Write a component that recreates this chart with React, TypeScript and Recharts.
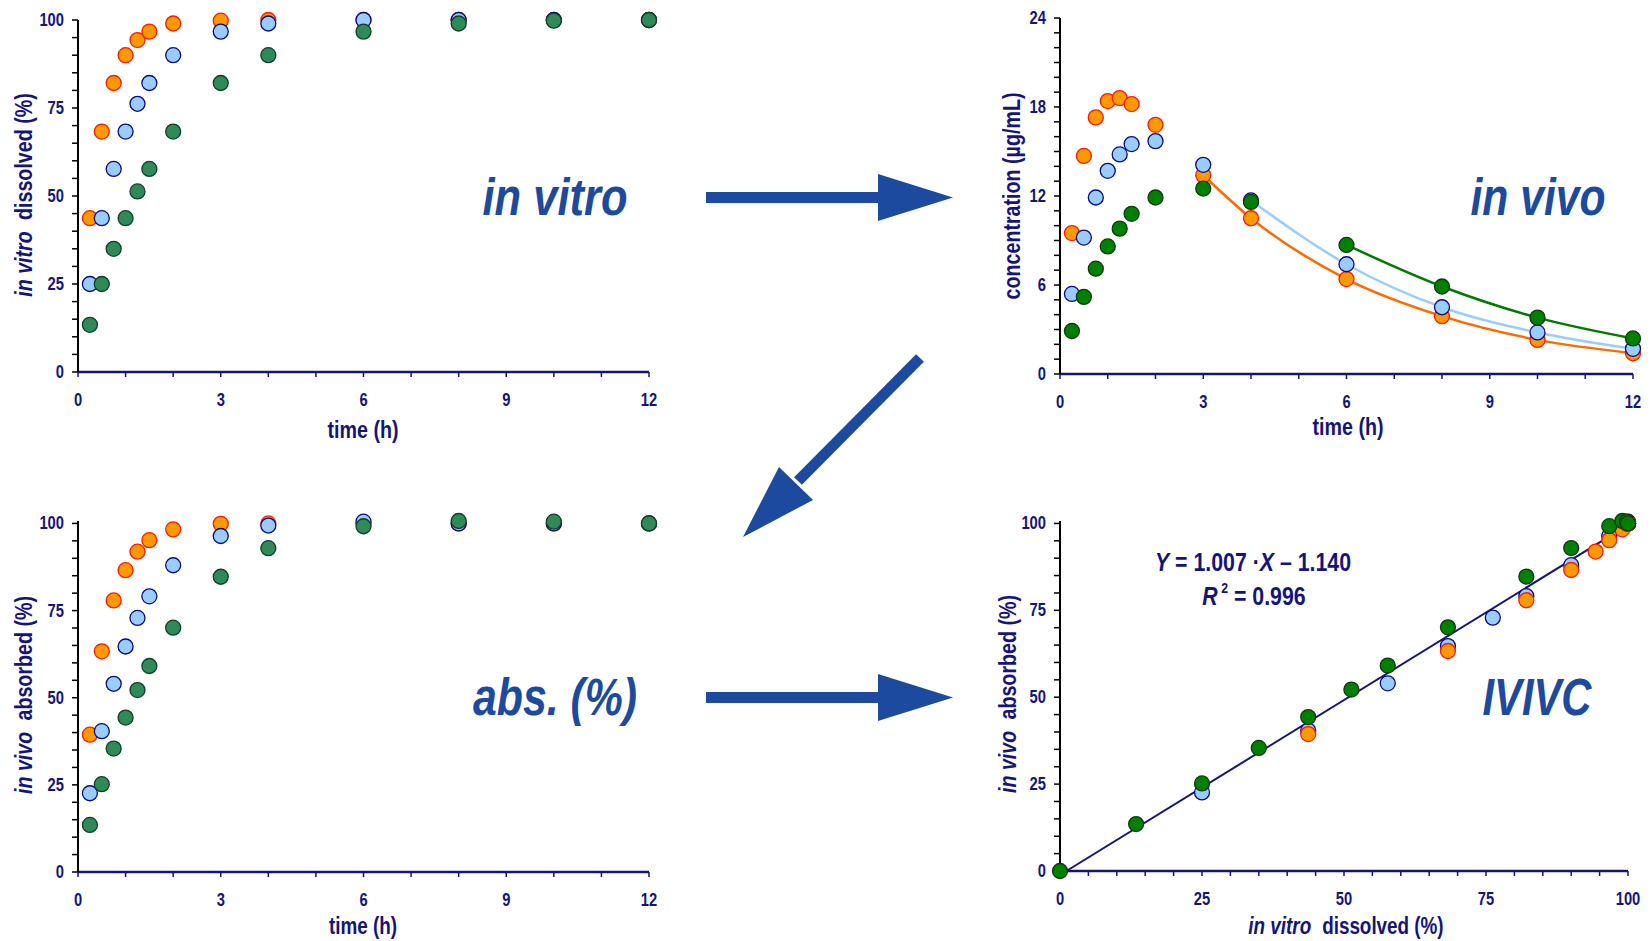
import React from 'react';
import { ComposedChart, Scatter, Line, XAxis, YAxis } from 'recharts';

// sampling times (h)
const times = [0.25, 0.5, 0.75, 1, 1.25, 1.5, 2, 3, 4, 6, 8, 10, 12];

// in vitro dissolved (%)
const dissolvedFast = [43.7, 68.3, 82.1, 90.0, 94.3, 96.7, 99.0, 99.8, 100, 100, 100, 100, 100];
const dissolvedMid = [25.0, 43.7, 57.7, 68.3, 76.2, 82.1, 90.0, 96.7, 99.0, 100, 100, 100, 100];
const dissolvedSlow = [13.4, 25.0, 35.0, 43.7, 51.3, 57.7, 68.3, 82.1, 90.0, 96.7, 99.0, 99.8, 100];

// plasma concentration (µg/mL)
const concFast = [9.5, 14.7, 17.3, 18.4, 18.6, 18.2, 16.8, 13.4, 10.5, 6.4, 3.9, 2.3, 1.4];
const concMid = [5.4, 9.2, 11.9, 13.7, 14.8, 15.5, 15.7, 14.1, 11.7, 7.4, 4.5, 2.8, 1.7];
const concSlow = [2.9, 5.2, 7.1, 8.6, 9.8, 10.8, 11.9, 12.5, 11.6, 8.7, 5.9, 3.8, 2.4];

// first sample of the terminal (fitted) phase for each formulation
const fitStartFast = 7;
const fitStartMid = 8;
const fitStartSlow = 9;

// in vivo absorbed (%)
const absorbedFast = [39.4, 63.3, 77.9, 86.6, 91.9, 95.2, 98.3, 99.9, 100, 100, 100, 100, 100];
const absorbedMid = [22.6, 40.4, 54.0, 64.7, 72.9, 79.1, 88.0, 96.4, 99.4, 100.5, 100, 100, 100];
const absorbedSlow = [13.5, 25.2, 35.4, 44.3, 52.2, 59.1, 70.1, 84.7, 92.9, 99.2, 100.7, 100.5, 100];

// IVIVC regression
const slope = 1.007;
const intercept = -1.14;
const rSquared = 0.996;

const timeTicks = [0, 1, 2, 3, 4, 5, 6, 7, 8, 9, 10, 11, 12];
const pctTicks = Array.from({ length: 21 }, (_, i) => i * 5);
const concTicks = Array.from({ length: 25 }, (_, i) => i);

const NAVY = '#14147a';
const ARROW = '#1c4a9e';
const FONT = "'Liberation Sans Narrow', 'Arial Narrow', 'Liberation Sans', Arial, sans-serif";
// no condensed face is installed, so squeeze the regular bold one
const SQUEEZE = 0.82;

const pairs = (xs: number[], ys: number[]) => xs.map((x, i) => ({ x, y: ys[i] }));

const dot = (fill: string, stroke: string) => (p: any) => (
  <circle cx={p.cx} cy={p.cy} r={7.5} fill={fill} stroke={stroke} strokeWidth={1.3} />
);

const orangeDot = dot('#ff9900', '#ff1a00');
const blueDot = dot('#99ccff', '#0a0a80');
const seaDot = dot('#2e8b57', '#143d25');
const greenDot = dot('#008000', '#123812');

type NarrowProps = {
  x: number;
  y: number;
  size: number;
  rotate?: number;
  anchor?: 'start' | 'middle' | 'end';
  dy?: number;
  children: React.ReactNode;
};

function Narrow({ x, y, size, rotate = 0, anchor = 'middle', dy = 0, children }: NarrowProps) {
  return (
    <g transform={`translate(${x},${y}) rotate(${rotate}) scale(${SQUEEZE},1)`}>
      <text x={0} y={dy} textAnchor={anchor} fill={NAVY} fontFamily={FONT} fontWeight="bold" fontSize={size}>
        {children}
      </text>
    </g>
  );
}

const xTick = (step: number) => (p: any) => {
  const v = p.payload.value;
  if (Math.abs(v % step) > 1e-6) return <g />;
  return <Narrow x={p.x} y={p.y} dy={27} size={18}>{v}</Narrow>;
};

const yTick = (step: number) => (p: any) => {
  const v = p.payload.value;
  if (Math.abs(v % step) > 1e-6) return <g />;
  return <Narrow x={p.x} y={p.y} dy={6} size={18} anchor="end">{v}</Narrow>;
};

const xAxisProps = {
  type: 'number' as const,
  dataKey: 'x',
  height: 60,
  axisLine: { stroke: NAVY, strokeWidth: 2.5 },
  tickLine: { stroke: NAVY, strokeWidth: 1.5 },
  tickSize: 5,
  tickMargin: 2,
  interval: 0 as const,
};

const yAxisProps = {
  type: 'number' as const,
  dataKey: 'y',
  axisLine: { stroke: '#000', strokeWidth: 2 },
  tickLine: { stroke: '#000', strokeWidth: 1.5 },
  tickSize: 6,
  tickMargin: 8,
  interval: 0 as const,
};

function TimeCourse({ fast, mid, slow, top }: { fast: number[]; mid: number[]; slow: number[]; top: number }) {
  return (
    <div style={{ position: 'absolute', left: 0, top }}>
      <ComposedChart width={680} height={450} margin={{ top: top === 0 ? 20 : 21, right: 31, bottom: 18, left: 0 }}>
        <XAxis {...xAxisProps} domain={() => [0, 12]} ticks={timeTicks} tick={xTick(3)} />
        <YAxis {...yAxisProps} width={78} domain={() => [0, 100]} ticks={pctTicks} tick={yTick(25)} />
        <Scatter data={pairs(times, fast)} shape={orangeDot} isAnimationActive={false} />
        <Scatter data={pairs(times, mid)} shape={blueDot} isAnimationActive={false} />
        <Scatter data={pairs(times, slow)} shape={seaDot} isAnimationActive={false} />
      </ComposedChart>
    </div>
  );
}

function Concentration() {
  return (
    <div style={{ position: 'absolute', left: 980, top: 0 }}>
      <ComposedChart width={680} height={450} margin={{ top: 18, right: 27, bottom: 16, left: 0 }}>
        <XAxis {...xAxisProps} domain={() => [0, 12]} ticks={timeTicks} tick={xTick(3)} />
        <YAxis {...yAxisProps} width={80} domain={() => [0, 24]} ticks={concTicks} tick={yTick(6)} />
        <Line data={pairs(times, concFast).slice(fitStartFast)} dataKey="y" type="monotone" stroke="#ff6a00" strokeWidth={2.5} dot={false} isAnimationActive={false} />
        <Line data={pairs(times, concMid).slice(fitStartMid)} dataKey="y" type="monotone" stroke="#99ccff" strokeWidth={2.5} dot={false} isAnimationActive={false} />
        <Line data={pairs(times, concSlow).slice(fitStartSlow)} dataKey="y" type="monotone" stroke="#007a00" strokeWidth={2.5} dot={false} isAnimationActive={false} />
        <Scatter data={pairs(times, concFast)} shape={orangeDot} isAnimationActive={false} />
        <Scatter data={pairs(times, concMid)} shape={blueDot} isAnimationActive={false} />
        <Scatter data={pairs(times, concSlow)} shape={greenDot} isAnimationActive={false} />
      </ComposedChart>
    </div>
  );
}

function Correlation() {
  const xStart = -intercept / slope;
  const fitLine = [xStart, 100].map((x) => ({ x, y: slope * x + intercept }));
  return (
    <div style={{ position: 'absolute', left: 980, top: 500 }}>
      <ComposedChart width={680} height={450} margin={{ top: 21, right: 32, bottom: 19, left: 0 }}>
        <XAxis {...xAxisProps} domain={() => [0, 100]} ticks={pctTicks} tick={xTick(25)} />
        <YAxis {...yAxisProps} width={80} domain={() => [0, 100]} ticks={pctTicks} tick={yTick(25)} />
        <Scatter data={pairs(dissolvedMid, absorbedMid)} shape={blueDot} isAnimationActive={false} />
        <Scatter data={pairs(dissolvedFast, absorbedFast)} shape={orangeDot} isAnimationActive={false} />
        <Scatter data={[{ x: 0, y: 0 }, ...pairs(dissolvedSlow, absorbedSlow)]} shape={greenDot} isAnimationActive={false} />
        <Line data={fitLine} dataKey="y" type="linear" stroke={NAVY} strokeWidth={2} dot={false} isAnimationActive={false} />
      </ComposedChart>
    </div>
  );
}

function Caption({ x, y, width, children }: { x: number; y: number; width: number; children: string }) {
  return (
    <text
      x={x - width / 2}
      y={y}
      textLength={width}
      lengthAdjust="spacingAndGlyphs"
      fontFamily={FONT}
      fontWeight="bold"
      fontStyle="italic"
      fontSize={51}
      fill={ARROW}
    >
      {children}
    </text>
  );
}

// "in vitro  dissolved (%)" style title: italic qualifier, wide gap, plain rest
const qualified = (qualifier: string, rest: string) => (
  <>
    <tspan fontStyle="italic">{qualifier}</tspan>
    <tspan dx={7}>{rest}</tspan>
  </>
);

function Overlay() {
  return (
    <svg width={1651} height={941} style={{ position: 'absolute', left: 0, top: 0, pointerEvents: 'none' }}>
      {/* axis titles */}
      <Narrow x={363} y={438} size={24}>time (h)</Narrow>
      <Narrow x={1348} y={435} size={24}>time (h)</Narrow>
      <Narrow x={363} y={934} size={23}>time (h)</Narrow>
      <Narrow x={1346} y={934} size={23}>{qualified('in vitro', ' dissolved (%)')}</Narrow>
      <Narrow x={32} y={195} size={24} rotate={-90}>{qualified('in vitro', ' dissolved (%)')}</Narrow>
      <Narrow x={1020} y={196} size={24} rotate={-90}>concentration (µg/mL)</Narrow>
      <Narrow x={32} y={695} size={24} rotate={-90}>{qualified('in vivo', ' absorbed (%)')}</Narrow>
      <Narrow x={1016} y={694} size={24} rotate={-90}>{qualified('in vivo', ' absorbed (%)')}</Narrow>

      {/* regression equation */}
      <Narrow x={1253} y={571} size={26}>
        <tspan fontStyle="italic">Y</tspan> = {slope.toFixed(3)} ·<tspan fontStyle="italic">X</tspan> – {Math.abs(intercept).toFixed(3)}
      </Narrow>
      <Narrow x={1254} y={605} size={26}>
        <tspan fontStyle="italic">R</tspan>
        <tspan fontSize={15} dy={-12}> 2</tspan>
        <tspan dy={12}> = {rSquared.toFixed(3)}</tspan>
      </Narrow>

      {/* panel captions */}
      <Caption x={555} y={215} width={145}>in vitro</Caption>
      <Caption x={1538} y={215} width={135}>in vivo</Caption>
      <Caption x={555} y={715} width={164}>abs. (%)</Caption>
      <Caption x={1537} y={715} width={109}>IVIVC</Caption>

      {/* arrows */}
      <rect x={706} y={192} width={173} height={11} fill={ARROW} />
      <polygon points="878,174 953,197.5 878,221" fill={ARROW} />
      <rect x={706} y={692} width={173} height={11} fill={ARROW} />
      <polygon points="878,674 953,697.5 878,721" fill={ARROW} />
      <line x1={920} y1={358} x2={798} y2={481} stroke={ARROW} strokeWidth={11} />
      <polygon points="779,467 813,500 743,537" fill={ARROW} />
    </svg>
  );
}

export default function App() {
  return (
    <div style={{ position: 'absolute', left: 0, top: 0, width: 1651, height: 941, background: '#fff', overflow: 'hidden' }}>
      <TimeCourse fast={dissolvedFast} mid={dissolvedMid} slow={dissolvedSlow} top={0} />
      <Concentration />
      <TimeCourse fast={absorbedFast} mid={absorbedMid} slow={absorbedSlow} top={500} />
      <Correlation />
      <Overlay />
    </div>
  );
}
